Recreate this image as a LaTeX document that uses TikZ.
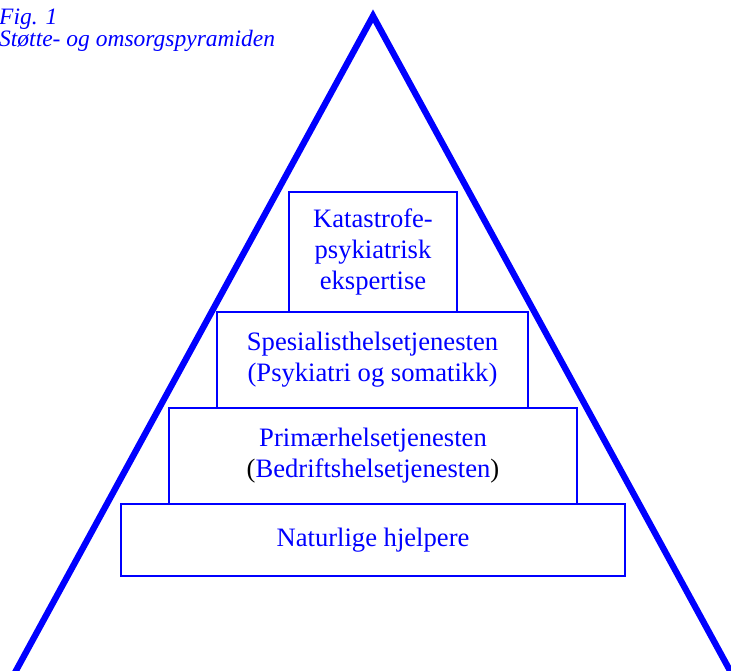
\documentclass[tikz,border=0pt]{standalone}
\usepackage{fontspec}
\setmainfont{Liberation Serif}
\definecolor{pureblue}{RGB}{0,0,255}
\tikzset{
	tier/.style={draw=pureblue, line width=1.6pt, text=pureblue, align=center, inner sep=0pt,
		font=\fontsize{26.6}{31}\selectfont},
	caption/.style={anchor=base west, inner sep=0pt, text=pureblue, font=\fontsize{23.5}{20}\selectfont\itshape}
}
\begin{document}
\begin{tikzpicture}[x=1pt, y=-1pt]
	\useasboundingbox (0, 0) rectangle (731, 671);
	\begin{scope}
	\clip (0, 0) rectangle (731, 671);
	\draw[pureblue, line width=6.3pt, line join=miter] (0, 700) -- (373, 16) -- (746, 700);
	\end{scope}
	\node[caption] (fig) at (-1, 25) {Fig. 1};
	\node[caption] (title) at (-1, 47) {Støtte- og omsorgspyramiden};
	\node[tier, minimum width=504, minimum height=72] (naturlige) at (373, 540) {Naturlige hjelpere};
	\node[tier, minimum width=408, minimum height=96] (primaer) at (373, 456)
		{Primærhelsetjenesten\\{\color{black}(}Bedriftshelsetjenesten{\color{black})}};
	\node[tier, minimum width=311, minimum height=96] (spesialist) at (372.5, 360)
		{Spesialisthelsetjenesten\\(Psykiatri og somatikk)};
	\node[tier, minimum width=168, minimum height=120] (katastrofe) at (373, 252)
		{Katastrofe-\\psykiatrisk\\ekspertise};
\end{tikzpicture}
\end{document}
